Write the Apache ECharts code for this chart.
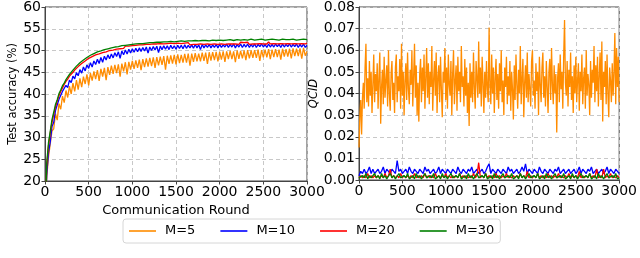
<!DOCTYPE html>
<html><head><meta charset="utf-8">
<script src="https://cdn.jsdelivr.net/npm/echarts@6/dist/echarts.min.js"></script>
<style>html,body{margin:0;padding:0;background:#fff}#c{width:640px;height:258px}</style>
</head><body><div id="c"></div>
<script>
// Communication rounds sampled every 20 rounds (0..3000)
const rounds = [];
for (let i = 0; i <= 150; i++) rounds.push(i * 20);
// finer sampling (every 10 rounds) for the very noisy M=5 QCID series
const roundsFine = [];
for (let i = 0; i <= 300; i++) roundsFine.push(i * 10);

const legendNames = ['M=5', 'M=10', 'M=20', 'M=30'];

// Test accuracy (%)
const acc5 = [7,21,25.5,28.5,31.5,32.0,35.5,34.0,37.8,36.5,
39.5,38.0,40.8,39.2,41.8,40.0,42.5,40.6,43.2,41.0,
43.6,41.6,44.0,42.3,44.5,42.0,44.8,43.1,45.2,43.4,
45.5,43.0,45.8,44.0,46.0,43.2,46.2,44.4,46.5,44.6,
46.7,44.8,46.8,44.0,47.0,45.2,47.3,44.5,47.4,45.6,
47.6,45.8,47.7,46.0,47.9,45.5,48.0,46.2,48.2,46.3,
48.3,46.4,48.4,46.0,48.5,46.6,48.6,46.7,48.7,45.6,
48.8,46.9,48.9,47.0,49.0,46.8,49.1,47.1,49.0,47.2,
49.2,47.2,49.3,46.5,49.3,47.4,49.4,47.5,49.3,47.5,
49.5,47.6,49.5,46.9,49.6,47.7,49.6,47.8,49.7,47.5,
49.7,47.9,49.8,47.4,49.8,48.0,49.9,48.0,49.8,47.3,
50.0,48.1,49.9,48.2,50.0,47.8,50.1,48.2,50.0,48.3,
50.1,48.3,50.2,47.6,50.1,48.4,50.2,48.4,50.3,48.0,
50.2,48.5,50.3,48.5,50.2,47.9,50.4,48.6,50.3,48.6,
50.4,48.2,50.5,48.7,50.4,48.7,50.5,48.1,50.6,48.8,49.8];
const acc10 = [8,21.5,26.5,29.0,32.5,33.5,36.2,36.0,38.8,38.5,
40.6,40.2,42.0,41.5,43.2,42.6,44.1,43.5,44.9,44.2,
45.6,44.8,46.2,45.3,46.7,45.9,47.2,46.2,47.6,46.8,
48.0,47.0,48.4,47.3,48.7,47.8,49.0,48.1,49.2,48.3,
49.5,48.6,49.7,48.2,49.9,49.0,50.1,49.2,50.3,49.4,
50.4,49.6,50.5,49.7,50.6,49.8,50.7,49.9,50.8,49.4,
50.8,50.0,50.9,50.1,51.0,49.5,51.0,50.2,51.1,50.3,
51.1,50.2,51.2,50.4,51.1,50.3,51.2,50.5,51.2,50.4,
51.3,50.5,51.2,50.6,51.3,50.5,51.4,50.6,51.3,50.2,
51.4,50.6,51.3,50.7,51.4,50.6,51.3,50.7,51.4,50.6,
51.4,50.7,51.3,50.8,51.5,50.7,51.4,50.8,51.5,50.6,
51.4,50.8,51.5,50.7,51.4,50.8,51.5,50.7,51.4,50.8,
51.5,50.7,51.4,50.9,51.5,50.8,51.4,50.7,51.5,50.8,
51.4,50.8,51.5,50.9,51.4,50.7,51.5,50.8,51.4,50.9,
51.5,50.8,51.4,50.9,51.5,50.7,51.4,50.8,51.5,50.7,51.2];
const acc20 = [9,23.5,28.2,31.0,33.5,35.4,37.0,38.4,39.6,40.6,
41.4,42.2,42.9,43.4,44.1,44.5,45.0,45.5,45.9,46.3,
46.7,47.0,47.4,47.6,47.9,48.2,48.4,48.6,48.9,49.0,
49.3,49.2,49.6,49.5,49.9,49.7,50.1,50.0,50.3,50.1,
50.5,50.3,50.7,50.4,50.8,50.5,51.0,50.6,51.0,50.7,
51.1,50.8,51.2,50.9,51.3,50.9,51.3,51.0,51.4,51.0,
51.4,51.1,51.5,51.1,51.5,51.2,51.6,51.2,51.5,51.3,
51.6,51.2,51.7,51.3,51.6,51.3,51.7,51.4,51.6,51.3,
51.7,51.4,51.8,51.3,51.7,51.4,51.8,51.4,51.7,51.5,
51.8,51.4,51.7,51.5,51.9,51.4,51.8,51.5,51.7,51.4,
51.8,51.5,51.9,51.4,51.8,51.5,51.7,51.5,51.9,51.5,
51.8,51.4,51.9,51.5,51.8,51.5,51.9,51.4,51.8,51.5,
51.9,51.5,51.8,51.6,51.9,51.5,51.8,51.5,52.0,51.5,
51.8,51.6,51.9,51.5,51.8,51.6,51.9,51.5,51.8,51.6,
51.9,51.5,51.8,51.6,51.9,51.5,51.8,51.6,51.9,51.5,51.7];
const acc30 = [10,24.2,28.8,31.4,34.1,35.8,37.6,38.7,40.1,40.9,
41.9,42.5,43.3,43.7,44.5,44.8,45.5,45.8,46.4,46.6,
47.2,47.3,47.8,47.9,48.4,48.5,48.9,48.9,49.3,49.3,
49.7,49.6,49.9,49.8,50.2,50.1,50.4,50.3,50.6,50.5,
50.8,50.6,50.9,50.8,51.1,50.9,51.2,51.0,51.3,51.1,
51.4,51.2,51.5,51.3,51.6,51.4,51.6,51.5,51.7,51.5,
51.8,51.6,51.8,51.6,51.9,51.7,51.9,51.7,52.0,51.8,
52.0,51.8,52.1,51.8,52.0,51.9,52.1,51.9,52.2,51.9,
52.1,52.0,52.2,51.9,52.2,52.0,52.3,52.0,52.2,52.1,
52.3,52.0,52.3,52.1,52.2,52.1,52.4,52.1,52.3,52.1,
52.4,52.2,52.3,52.1,52.4,52.2,52.5,52.2,52.3,52.2,
52.5,52.2,52.4,52.3,52.5,52.2,52.4,52.3,52.6,52.3,
52.4,52.2,52.5,52.3,52.6,52.2,52.4,52.3,52.5,52.3,
52.6,52.3,52.5,52.2,52.4,52.3,52.6,52.3,52.5,52.2,
52.5,52.3,52.6,52.3,52.4,52.2,52.5,52.3,52.6,52.3,52.5];

// QCID, M=5 (every 10 rounds)
const qcid5 = [0.015,0.030,0.037,0.021,0.038,0.045,0.033,0.052,0.063,0.036,
0.047,0.034,0.055,0.039,0.050,0.031,0.044,0.058,0.036,0.049,
0.041,0.054,0.033,0.047,0.059,0.026,0.043,0.051,0.035,0.057,
0.038,0.046,0.053,0.034,0.060,0.040,0.032,0.049,0.055,0.037,
0.045,0.031,0.052,0.058,0.036,0.048,0.041,0.056,0.033,0.063,
0.039,0.050,0.030,0.046,0.054,0.037,0.059,0.042,0.035,0.051,
0.044,0.060,0.034,0.048,0.063,0.038,0.053,0.030,0.045,0.027,
0.049,0.056,0.036,0.052,0.041,0.058,0.033,0.047,0.061,0.038,
0.054,0.035,0.050,0.043,0.062,0.032,0.046,0.055,0.039,0.059,
0.031,0.048,0.053,0.036,0.057,0.042,0.029,0.050,0.045,0.061,
0.037,0.052,0.033,0.058,0.044,0.039,0.055,0.030,0.049,0.060,
0.035,0.046,0.053,0.032,0.057,0.041,0.050,0.036,0.062,0.043,
0.048,0.034,0.056,0.039,0.052,0.031,0.045,0.025,0.054,0.038,
0.050,0.036,0.059,0.043,0.033,0.055,0.047,0.038,0.064,0.040,
0.052,0.034,0.057,0.045,0.031,0.050,0.038,0.055,0.042,0.036,
0.0705,0.044,0.035,0.058,0.040,0.052,0.031,0.047,0.056,0.037,
0.049,0.033,0.054,0.041,0.060,0.036,0.046,0.030,0.052,0.043,
0.057,0.035,0.048,0.039,0.055,0.032,0.050,0.042,0.028,0.053,
0.037,0.058,0.044,0.033,0.051,0.040,0.062,0.035,0.047,0.056,
0.029,0.045,0.053,0.038,0.059,0.036,0.049,0.042,0.034,0.055,
0.060,0.039,0.046,0.033,0.054,0.041,0.050,0.030,0.057,0.044,
0.036,0.052,0.059,0.038,0.048,0.034,0.055,0.043,0.031,0.050,
0.056,0.037,0.061,0.044,0.035,0.053,0.040,0.049,0.022,0.047,
0.054,0.036,0.058,0.042,0.050,0.033,0.057,0.074,0.045,0.039,
0.055,0.034,0.051,0.043,0.059,0.037,0.048,0.031,0.053,0.040,
0.057,0.036,0.046,0.054,0.032,0.050,0.041,0.058,0.035,0.047,
0.052,0.033,0.060,0.039,0.049,0.044,0.030,0.055,0.038,0.051,
0.045,0.062,0.036,0.053,0.041,0.057,0.034,0.048,0.059,0.037,
0.064,0.027,0.050,0.043,0.055,0.035,0.058,0.040,0.029,0.052,
0.046,0.036,0.054,0.039,0.050,0.068,0.035,0.061,0.043,0.057,0.036];
// QCID, M=10/20/30 (every 20 rounds)
const qcid10 = [0.002,0.004,0.003,0.005,0.003,0.004,0.006,0.003,0.005,0.003,
0.004,0.005,0.003,0.004,0.006,0.003,0.005,0.004,0.003,0.005,
0.004,0.003,0.009,0.004,0.005,0.003,0.004,0.005,0.003,0.006,
0.004,0.003,0.005,0.004,0.003,0.005,0.004,0.003,0.006,0.004,
0.005,0.003,0.004,0.005,0.003,0.004,0.006,0.003,0.005,0.004,
0.003,0.005,0.004,0.003,0.005,0.004,0.003,0.006,0.004,0.003,
0.005,0.004,0.003,0.005,0.004,0.006,0.003,0.004,0.005,0.003,
0.004,0.005,0.003,0.004,0.006,0.0075,0.003,0.005,0.004,0.003,
0.005,0.004,0.003,0.005,0.004,0.003,0.006,0.004,0.005,0.003,
0.004,0.005,0.003,0.004,0.006,0.004,0.0075,0.003,0.005,0.004,
0.003,0.005,0.004,0.003,0.006,0.004,0.003,0.005,0.004,0.003,
0.005,0.004,0.003,0.005,0.004,0.006,0.003,0.004,0.005,0.003,
0.004,0.005,0.003,0.004,0.005,0.003,0.004,0.006,0.003,0.005,
0.004,0.003,0.005,0.004,0.006,0.003,0.004,0.005,0.003,0.004,
0.005,0.003,0.004,0.006,0.003,0.005,0.004,0.003,0.005,0.004,0.003];
const qcid20 = [0.001,0.002,0.001,0.002,0.001,0.003,0.001,0.002,0.001,0.002,
0.001,0.002,0.001,0.002,0.001,0.003,0.001,0.002,0.005,0.001,
0.002,0.001,0.002,0.001,0.003,0.001,0.002,0.001,0.002,0.001,
0.002,0.001,0.003,0.001,0.002,0.001,0.002,0.001,0.003,0.001,
0.002,0.001,0.002,0.001,0.003,0.001,0.002,0.001,0.002,0.001,
0.003,0.001,0.002,0.001,0.002,0.001,0.002,0.001,0.003,0.001,
0.002,0.001,0.002,0.001,0.002,0.001,0.003,0.001,0.002,0.008,
0.001,0.002,0.001,0.003,0.001,0.002,0.001,0.002,0.001,0.003,
0.001,0.002,0.001,0.002,0.001,0.003,0.001,0.002,0.001,0.002,
0.001,0.002,0.001,0.003,0.001,0.002,0.001,0.004,0.001,0.002,
0.001,0.002,0.001,0.003,0.001,0.002,0.001,0.002,0.001,0.003,
0.001,0.002,0.001,0.002,0.001,0.003,0.001,0.002,0.001,0.002,
0.001,0.003,0.001,0.002,0.001,0.002,0.001,0.004,0.001,0.002,
0.001,0.002,0.001,0.003,0.001,0.002,0.001,0.005,0.001,0.002,
0.001,0.005,0.001,0.002,0.001,0.003,0.001,0.002,0.001,0.002,0.001];
const qcid30 = [0.001,0.0005,0.002,0.001,0.003,0.0005,0.002,0.001,0.0005,0.003,
0.001,0.002,0.0005,0.003,0.001,0.002,0.0005,0.001,0.003,0.001,
0.002,0.0005,0.001,0.003,0.001,0.0005,0.002,0.001,0.003,0.0005,
0.001,0.002,0.0005,0.003,0.001,0.002,0.0005,0.001,0.003,0.001,
0.0005,0.002,0.001,0.003,0.0005,0.001,0.002,0.0005,0.003,0.001,
0.002,0.0005,0.001,0.003,0.001,0.0005,0.002,0.001,0.003,0.0005,
0.001,0.002,0.0005,0.003,0.001,0.002,0.0005,0.001,0.003,0.001,
0.0005,0.002,0.001,0.003,0.0005,0.001,0.002,0.0005,0.003,0.001,
0.002,0.0005,0.001,0.003,0.001,0.0005,0.002,0.001,0.003,0.0005,
0.001,0.002,0.0005,0.003,0.001,0.002,0.0005,0.001,0.003,0.001,
0.0005,0.002,0.001,0.003,0.0005,0.001,0.002,0.0005,0.003,0.001,
0.002,0.0005,0.001,0.003,0.001,0.0005,0.002,0.001,0.003,0.0005,
0.001,0.002,0.0005,0.003,0.001,0.002,0.0005,0.001,0.003,0.001,
0.0005,0.002,0.001,0.003,0.0005,0.001,0.002,0.0005,0.003,0.001,
0.002,0.0005,0.001,0.003,0.001,0.0005,0.002,0.001,0.003,0.0005,0.001];

const colors = ['#ff8c00', '#0000ff', '#ff0000', '#008000'];
const accSets = [acc5, acc10, acc20, acc30];
const qcidSets = [qcid5, qcid10, qcid20, qcid30];
const qcidRounds = [roundsFine, rounds, rounds, rounds];

const FONT = 'DejaVu Sans';
const frame = '#444';
const gridLine = { show: true, lineStyle: { color: '#c8c8c8', type: [4, 3], width: 1 } };

function xAxisCfg(gi) {
  return {
    gridIndex: gi, type: 'value', min: 0, max: 3000, interval: 500,
    name: 'Communication Round', nameLocation: 'middle', nameGap: 17,
    nameTextStyle: { fontFamily: FONT, fontSize: 13, color: '#000' },
    axisLine: { show: true, lineStyle: { color: frame, width: 1 } },
    axisTick: { show: true, inside: false, length: 3.5, lineStyle: { color: frame } },
    axisLabel: { fontFamily: FONT, fontSize: 14, color: '#000', margin: 4, formatter: v => String(v) },
    splitLine: gridLine
  };
}

const series = [];
legendNames.forEach((nm, k) => {
  series.push({
    name: nm, type: 'line', xAxisIndex: 0, yAxisIndex: 0, symbol: 'none', showSymbol: false,
    data: rounds.map((r, i) => [r, accSets[k][i]]),
    lineStyle: { color: colors[k], width: 1.3 }, itemStyle: { color: colors[k] }, clip: true
  });
});
legendNames.forEach((nm, k) => {
  series.push({
    name: nm, type: 'line', xAxisIndex: 1, yAxisIndex: 1, symbol: 'none', showSymbol: false,
    data: qcidRounds[k].map((r, i) => [r, qcidSets[k][i]]),
    lineStyle: { color: colors[k], width: 1.3 }, itemStyle: { color: colors[k] }, clip: true
  });
});

const chart = echarts.init(document.getElementById('c'), null, { renderer: 'canvas' });
chart.setOption({
  animation: false,
  backgroundColor: '#fff',
  grid: [
    { left: 45, top: 5, width: 262, height: 176, show: true, borderColor: frame, borderWidth: 1, backgroundColor: 'transparent' },
    { left: 359, top: 5, width: 262, height: 175, show: true, borderColor: frame, borderWidth: 1, backgroundColor: 'transparent' }
  ],
  xAxis: [xAxisCfg(0), xAxisCfg(1)],
  yAxis: [
    {
      gridIndex: 0, type: 'value', min: 20, max: 60, interval: 5,
      name: 'Test accuracy (%)', nameLocation: 'middle', nameGap: 25, nameRotate: 90,
      nameTextStyle: { fontFamily: FONT, fontSize: 11.5, color: '#000' },
      axisLine: { show: true, lineStyle: { color: frame } },
      axisTick: { show: true, length: 3.5, lineStyle: { color: frame } },
      axisLabel: { fontFamily: FONT, fontSize: 14, color: '#000', margin: 4 },
      splitLine: gridLine
    },
    {
      gridIndex: 1, type: 'value', min: 0, max: 0.08, interval: 0.01,
      name: 'QCID', nameLocation: 'middle', nameGap: 37, nameRotate: 90,
      nameTextStyle: { fontFamily: FONT, fontSize: 11.5, color: '#000', fontStyle: 'italic' },
      axisLine: { show: true, lineStyle: { color: frame } },
      axisTick: { show: true, length: 3.5, lineStyle: { color: frame } },
      axisLabel: { fontFamily: FONT, fontSize: 14, color: '#000', margin: 4, formatter: v => v.toFixed(2) },
      splitLine: gridLine
    }
  ],
  legend: {
    data: legendNames.map(n => ({ name: n, icon: 'rect' })), left: 123, top: 219, orient: 'horizontal',
    itemWidth: 27, itemHeight: 1.6, itemGap: 25,
    padding: [5, 6, 5, 6], borderColor: '#d6d6d6', borderWidth: 1, borderRadius: 3,
    textStyle: { fontFamily: FONT, fontSize: 13, color: '#000', padding: [0, 0, 0, 4], lineHeight: 14 }
  },
  series: series
});
</script></body></html>
